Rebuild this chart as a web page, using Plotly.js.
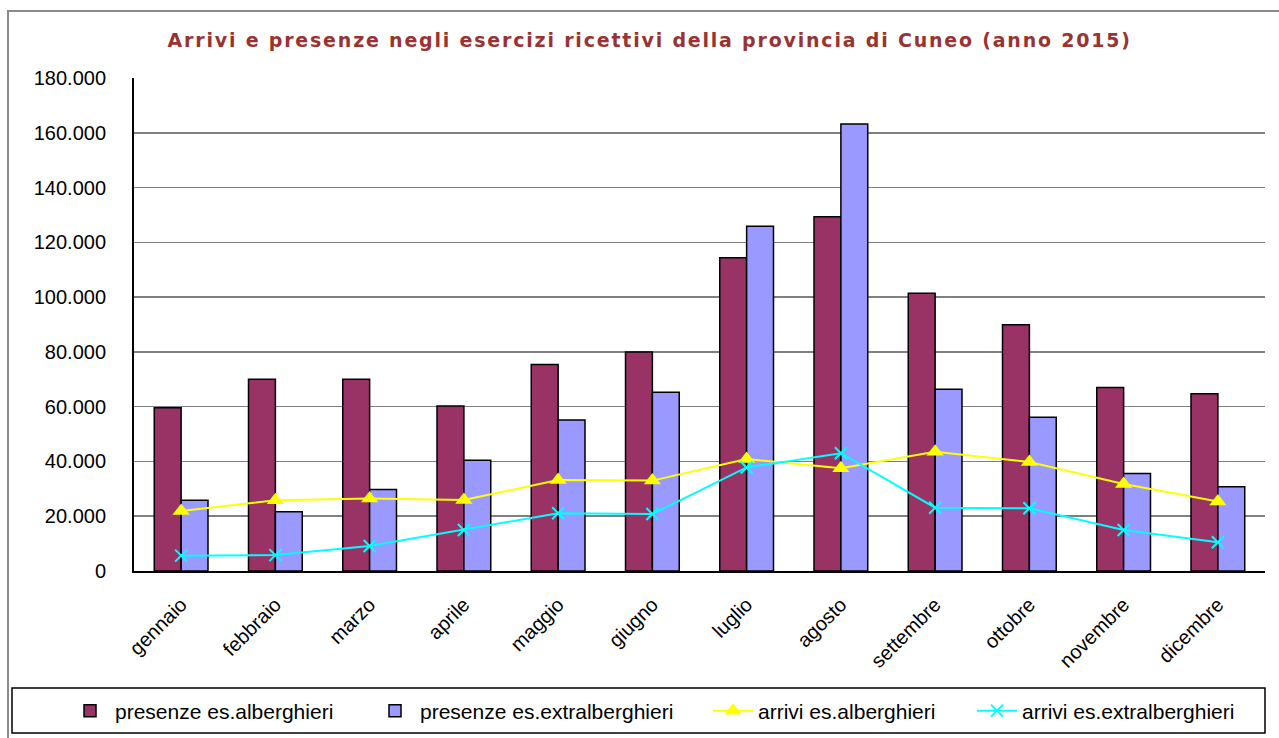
<!DOCTYPE html>
<html>
<head>
<meta charset="utf-8">
<script src="https://cdn.plot.ly/plotly-3.0.1.min.js"></script>
<style>
  html, body { margin: 0; padding: 0; background: #fff; }
  #plot { width: 1279px; height: 738px; }
  #plot .gtitle { letter-spacing: 1.8px; }
</style>
</head>
<body>
<div id="plot"></div>
<script>
const months = ["gennaio", "febbraio", "marzo", "aprile", "maggio", "giugno",
  "luglio", "agosto", "settembre", "ottobre", "novembre", "dicembre"];

const presenzeAlberghieri = [59600, 70000, 70000, 60200, 75400, 80000, 114400, 129300, 101400, 89900, 67000, 64700];
const presenzeExtra = [25800, 21600, 29800, 40400, 55100, 65300, 125900, 163200, 66400, 56100, 35600, 30800];
const arriviAlberghieri = [21900, 25800, 26500, 25900, 33200, 33000, 40900, 37500, 43500, 39800, 31800, 25400];
const arriviExtra = [5600, 5800, 9100, 15000, 21100, 20800, 37800, 43000, 23100, 22900, 15000, 10500];

const font = "Liberation Sans, Arial, sans-serif";

const traces = [
  {
    x: months, y: presenzeAlberghieri, type: "bar", name: "presenze es.alberghieri",
    marker: { color: "#993366", line: { color: "#000000", width: 1.5 } },
    legendwidth: 250,
  },
  {
    x: months, y: presenzeExtra, type: "bar", name: "presenze es.extralberghieri",
    marker: { color: "#9999FF", line: { color: "#000000", width: 1.5 } },
    legendwidth: 283,
  },
  {
    x: months, y: arriviAlberghieri, type: "scatter", mode: "lines+markers", name: "arrivi es.alberghieri",
    line: { color: "#FFFF00", width: 2 },
    marker: { symbol: "triangle-up", size: 15, color: "#FFFF00" },
    legendwidth: 209,
  },
  {
    x: months, y: arriviExtra, type: "scatter", mode: "lines+markers", name: "arrivi es.extralberghieri",
    line: { color: "#00FFFF", width: 2 },
    marker: { symbol: "x-thin-open", size: 12, color: "#00FFFF", line: { color: "#00FFFF", width: 2 } },
    legendwidth: 215,
  },
];

const layout = {
  width: 1279,
  height: 738,
  margin: { l: 134, r: 14, t: 78, b: 167, autoexpand: false },
  paper_bgcolor: "#ffffff",
  plot_bgcolor: "#ffffff",
  separators: ",.",
  showlegend: true,
  barmode: "group",
  bargap: 0.43,
  bargroupgap: 0,
  title: {
    text: "Arrivi e presenze negli esercizi ricettivi della provincia di Cuneo (anno 2015)",
    font: { family: "DejaVu Sans, Verdana, sans-serif", size: 19, color: "#993333", weight: "bold" },
    x: 0.508, xanchor: "center", y: 0.946, yanchor: "middle",
  },
  xaxis: {
    range: [-0.5, 11.5],
    tickangle: -45,
    tickfont: { family: font, size: 20, color: "#000" },
    showline: true, linecolor: "#000", linewidth: 2,
    ticks: "", showgrid: false,
    ticklabelstandoff: 12,
  },
  yaxis: {
    range: [0, 180000],
    dtick: 20000,
    tickformat: ",d",
    tickfont: { family: font, size: 20, color: "#000" },
    showline: true, linecolor: "#000", linewidth: 2,
    gridcolor: "#808080", gridwidth: 1.5,
    zeroline: false, ticks: "",
    ticklabelstandoff: 22,
  },
  legend: {
    orientation: "h",
    x: -0.061, xanchor: "left",
    y: -0.284, yanchor: "middle",
    font: { family: font, size: 21, color: "#000" },
    itemwidth: 40,
    bgcolor: "rgba(0,0,0,0)",
    traceorder: "normal",
  },
  shapes: [
    // legend box
    { type: "rect", xref: "paper", yref: "paper",
      x0: (12 - 134) / 1131, x1: (1265 - 134) / 1131,
      y0: (571 - 733) / 493, y1: (571 - 688) / 493,
      line: { color: "#000", width: 1.5 } },
    // outer chart border
    { type: "rect", xref: "paper", yref: "paper",
      x0: (8 - 134) / 1131, x1: (1300 - 134) / 1131,
      y0: (571 - 760) / 493, y1: (571 - 11) / 493,
      line: { color: "#8a8a8a", width: 2 } },
  ],
};

Plotly.newPlot("plot", traces, layout, { displayModeBar: false, staticPlot: true });
</script>
</body>
</html>
